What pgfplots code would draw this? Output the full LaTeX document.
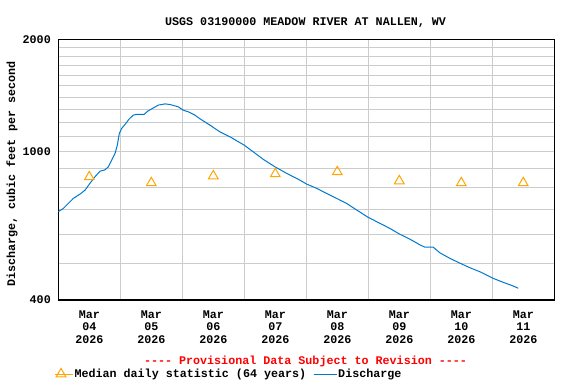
\documentclass[border=0pt]{standalone}
\usepackage{pgfplots}
\pgfplotsset{compat=1.18}
\usepackage{fontspec}
\setmainfont{Liberation Mono}
\definecolor{qblue}{RGB}{0,120,205}
\definecolor{qorange}{RGB}{255,165,0}
\definecolor{qgrid}{RGB}{204,204,204}
\newcommand{\uf}{\fontsize{11.7bp}{12.7bp}\selectfont\bfseries}
\begin{document}
\begin{tikzpicture}
\useasboundingbox (0,0) rectangle (576bp,384bp);
\begin{axis}[
  at={(58.3bp,84bp)}, anchor=south west,
  scale only axis, width=496bp, height=260.7bp,
  clip=false,
  xmin=0, xmax=8,
  ymode=log, ymin=400, ymax=2000,
  xtick={0.5,1.5,...,7.5},
  xticklabels={{Mar\\04\\2026},{Mar\\05\\2026},{Mar\\06\\2026},{Mar\\07\\2026},{Mar\\08\\2026},{Mar\\09\\2026},{Mar\\10\\2026},{Mar\\11\\2026}},
  minor xtick={1,2,...,7},
  ytick={400,1000,2000},
  yticklabels={400,1000,2000},
  minor ytick={500,600,700,800,900,1100,1200,1300,1400,1500,1600,1700,1800,1900},
  xminorgrids, ymajorgrids, yminorgrids,
  grid style={draw=qgrid, line width=0.9bp},
  major tick length=0pt, minor tick length=0pt,
  axis line style={line width=1.2bp, black},
  /pgf/number format/assume math mode=true,
  xticklabel style={font=\uf, align=center, yshift=-7bp},
  yticklabel style={font=\uf, xshift=-4bp},
  ylabel={Discharge, cubic feet per second},
  ylabel style={font=\uf, at={(axis description cs:-0.0933,0.483)}, anchor=center},
  legend style={at={(axis description cs:-0.008,-0.284)}, anchor=west, draw=none, fill=none,
    font=\uf, legend columns=2, inner sep=0pt,
    nodes={inner sep=1bp},
    /tikz/every even column/.append style={column sep=6bp}},
  legend cell align=left,
]
\addplot[only marks, mark=triangle, mark size=5.6bp, qorange, line width=1bp,
  legend image code/.code={\path (0bp,0bp) -- (18bp,0bp); \draw plot coordinates {(6bp,0bp)};}]
  coordinates {(0.5,855) (1.5,824) (2.5,860) (3.5,871) (4.5,882) (5.5,834) (6.5,824) (7.5,824)};
\addlegendentry{Median daily statistic (64 years)}
\addplot[qblue, line width=1bp, mark=none,
  legend image code/.code={\draw (0bp,0bp) -- (18bp,0bp); \path (0bp,0bp) -- (23bp,0bp);}]
  table {
x y
0 690
0.081 704
0.161 726
0.242 749
0.35 769
0.431 788
0.511 822
0.592 856
0.673 886
0.753 893
0.806 910
0.861 948
0.915 988
0.952 1040
0.984 1118
1.023 1154
1.076 1182
1.140 1221
1.210 1252
1.265 1259
1.387 1259
1.442 1283
1.532 1309
1.613 1332
1.721 1342
1.802 1337
1.935 1318
2.016 1291
2.097 1278
2.205 1252
2.285 1224
2.447 1177
2.608 1129
2.769 1095
3.0 1040
3.145 998
3.306 953
3.495 910
3.684 874
3.898 838
4.006 818
4.168 797
4.329 772
4.490 749
4.652 726
4.813 697
5.0 666
5.189 642
5.350 622
5.511 600
5.673 582
5.834 562
5.915 554
6.048 554
6.156 535
6.318 517
6.479 502
6.640 488
6.802 476
7.016 457
7.177 446
7.339 436
7.419 430
};
\addlegendentry{Discharge}
\node[font=\uf, anchor=center] at (axis description cs:0.4985,1.063) {USGS 03190000 MEADOW RIVER AT NALLEN, WV};
\node[font=\uf, text=red, anchor=center] at (axis description cs:0.4984,-0.237) {-{}-{}-{}- Provisional Data Subject to Revision -{}-{}-{}-};
\end{axis}
\end{tikzpicture}
\end{document}
